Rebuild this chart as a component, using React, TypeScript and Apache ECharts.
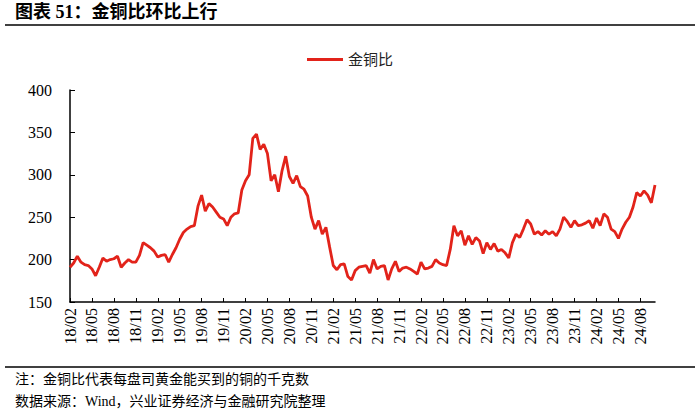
import React, { useEffect, useRef } from "react";
import * as echarts from "echarts";

// Semi-monthly readings (1st and 16th of each month), starting 2018-02
const startYear = 2018;
const startMonth = 2;
const values2018 = [191, 196, 204, 197, 194, 193, 189, 181, 191, 202, 198, 200, 201, 204, 191, 196, 200, 197, 197, 205, 220, 217];
const values2019 = [214, 210, 203, 205, 206, 197, 206, 214, 224, 232, 236, 239, 240, 263, 276, 257, 266, 262, 256, 250, 248, 240, 250, 254];
const values2020 = [255, 282, 293, 300, 343, 348, 330, 336, 325, 293, 300, 280, 305, 322, 298, 290, 299, 286, 283, 275, 250, 236, 246, 230];
const values2021 = [238, 215, 193, 188, 194, 195, 180, 176, 187, 191, 192, 193, 184, 200, 189, 192, 193, 176, 189, 198, 186, 190, 191, 189];
const values2022 = [186, 183, 197, 189, 190, 192, 200, 196, 194, 193, 212, 240, 228, 234, 217, 228, 218, 226, 222, 207, 220, 212, 219, 210];
const values2023 = [212, 208, 202, 220, 230, 226, 236, 247, 242, 230, 233, 229, 234, 230, 233, 228, 236, 250, 245, 238, 246, 240, 241, 243];
const values2024 = [246, 237, 249, 240, 254, 250, 236, 233, 225, 236, 244, 250, 262, 279, 275, 281, 276, 267, 288];

const seriesName = "金铜比";
const labelMonths = [2, 5, 8, 11];
const yTicks = { min: 150, max: 400, interval: 50 };
const titleText = "图表 51：金铜比环比上行";
const noteText = "注：金铜比代表每盘司黄金能买到的铜的千克数";
const sourceText = "数据来源：Wind，兴业证券经济与金融研究院整理";

const allValues = [
  ...values2018,
  ...values2019,
  ...values2020,
  ...values2021,
  ...values2022,
  ...values2023,
  ...values2024,
];

const categories: string[] = allValues.map((_, i) => {
  const half = i % 2;
  const mIdx = Math.floor(i / 2) + (startMonth - 1);
  const y = startYear + Math.floor(mIdx / 12);
  const m = (mIdx % 12) + 1;
  return `${y}-${String(m).padStart(2, "0")}-${half === 0 ? "01" : "16"}`;
});

const FONT = "'Liberation Serif', 'Noto Sans CJK SC', serif";

const isLabelCat = (v: string) => {
  const parts = v.split("-");
  return parts[2] === "01" && labelMonths.includes(Number(parts[1]));
};

export default function App() {
  const ref = useRef<HTMLDivElement>(null);
  useEffect(() => {
    if (!ref.current) return;
    const chart = echarts.init(ref.current, undefined, { renderer: "svg" });
    chart.setOption({
      animation: false,
      backgroundColor: "#fff",
      grid: { left: 70, right: 45, top: 90, bottom: 109 },
      legend: {
        data: [{ name: seriesName, icon: "rect" }],
        top: 47,
        left: "center",
        itemWidth: 36,
        itemHeight: 3,
        itemGap: 6,
        textStyle: { fontFamily: FONT, fontSize: 15, color: "#222" },
      },
      xAxis: {
        type: "category",
        data: categories,
        boundaryGap: false,
        axisLine: { lineStyle: { color: "#000", width: 1.5 } },
        axisTick: {
          inside: true,
          length: 4,
          interval: (i: number, v: string) => isLabelCat(v),
          lineStyle: { color: "#000" },
        },
        axisLabel: {
          rotate: 90,
          margin: 6,
          interval: (i: number, v: string) => isLabelCat(v),
          formatter: (v: string) => `${v.slice(2, 4)}/${v.slice(5, 7)}`,
          fontFamily: FONT,
          fontSize: 16,
          color: "#000",
        },
        splitLine: { show: false },
      },
      yAxis: {
        type: "value",
        min: yTicks.min,
        max: yTicks.max,
        interval: yTicks.interval,
        axisLine: { show: true, lineStyle: { color: "#000", width: 1.5 } },
        axisTick: { show: true, inside: true, length: 5, lineStyle: { color: "#000" } },
        axisLabel: { margin: 18, fontFamily: FONT, fontSize: 16, color: "#000" },
        splitLine: { show: false },
      },
      series: [
        {
          name: seriesName,
          type: "line",
          data: allValues,
          symbol: "none",
          showSymbol: false,
          lineStyle: { color: "#E2231A", width: 2.8 },
          itemStyle: { color: "#E2231A" },
        },
      ],
      graphic: [
        {
          type: "text",
          left: 15,
          top: 3,
          style: { text: titleText, font: `bold 18px ${FONT}`, fill: "#000" },
        },
        {
          type: "line",
          shape: { x1: 5, y1: 25, x2: 695, y2: 25 },
          style: { stroke: "#000", lineWidth: 1.5 },
        },
        {
          type: "line",
          shape: { x1: 5, y1: 367, x2: 695, y2: 367 },
          style: { stroke: "#000", lineWidth: 1.5 },
        },
        {
          type: "text",
          left: 15,
          top: 372,
          style: { text: noteText, font: `14px ${FONT}`, fill: "#000" },
        },
        {
          type: "text",
          left: 15,
          top: 394,
          style: { text: sourceText, font: `14px ${FONT}`, fill: "#000" },
        },
      ],
    });
    return () => chart.dispose();
  }, []);
  return (
    <div
      ref={ref}
      style={{ position: "fixed", left: 0, top: 0, width: 700, height: 411 }}
    />
  );
}
